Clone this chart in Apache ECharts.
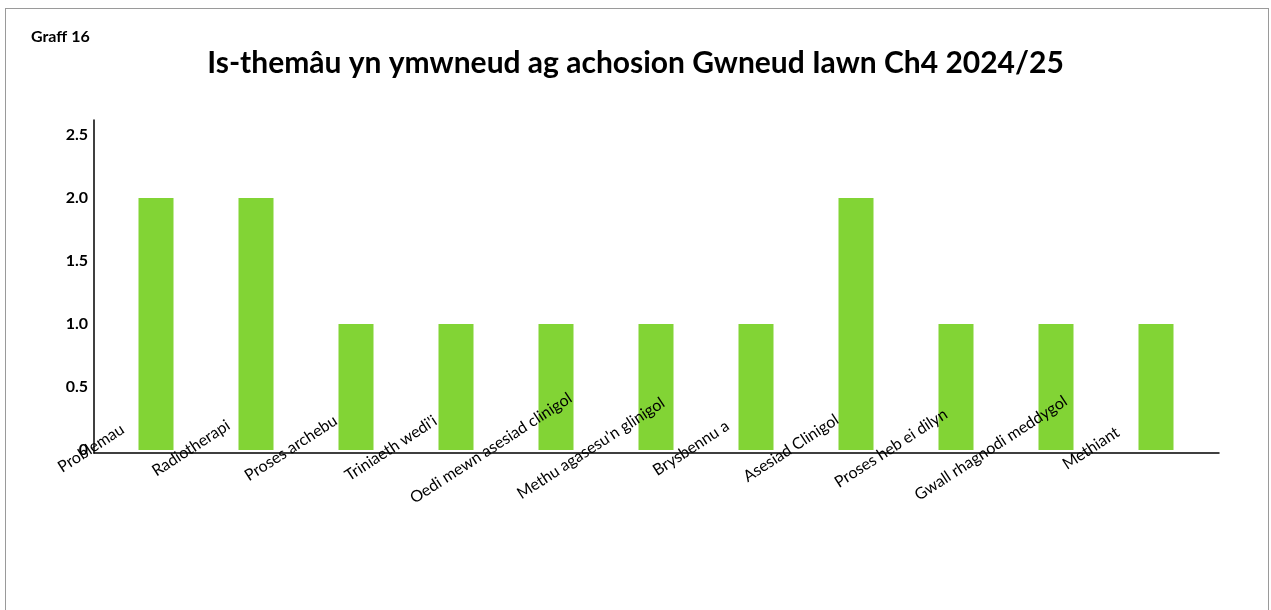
<!DOCTYPE html>
<html>
<head>
<meta charset="utf-8">
<script src="https://cdn.jsdelivr.net/npm/echarts@6/dist/echarts.min.js"></script>
<style>
html,body{margin:0;padding:0;background:#fff;overflow:hidden;}
#frame{position:absolute;left:5px;top:8px;width:1264px;height:640px;border:1.5px solid #9a9a9a;box-sizing:border-box;}
#chart{position:absolute;left:0;top:0;width:1271px;height:610px;}
</style>
</head>
<body>
<div id="frame"></div>
<div id="chart"></div>
<script>
var categories = ["Problemau","Radiotherapi","Proses archebu","Triniaeth wedi'i","Oedi mewn asesiad clinigol","Methu agasesu'n glinigol","Brysbennu a","Asesiad Clinigol","Proses heb ei dilyn","Gwall rhagnodi meddygol","Methiant"];
var values = [2,2,1,1,1,1,1,2,1,1,1];
var titleText = "Is-themâu yn ymwneud ag achosion Gwneud Iawn Ch4 2024/25";
var chartLabel = "Graff 16";

var FONT = "Lato, 'Open Sans', sans-serif";
var chart = echarts.init(document.getElementById('chart'), null, {renderer:'canvas'});
chart.setOption({
  animation:false,
  backgroundColor:'transparent',
  title:[
    {text:titleText,left:'center',top:43,textStyle:{fontFamily:FONT,fontWeight:'bold',fontSize:30,color:'#000'}},
    {text:chartLabel,left:26,top:24,textStyle:{fontFamily:FONT,fontWeight:'bold',fontSize:16,color:'#000'}}
  ],
  grid:[
    {left:106,right:65,top:135,bottom:160},
    {left:94,right:52,top:120,bottom:157}
  ],
  xAxis:[
    {type:'category',gridIndex:0,data:categories,z:20,
     axisLine:{show:false},axisTick:{show:false},
     axisLabel:{interval:0,rotate:33,align:'center',verticalAlign:'middle',margin:-44,
       padding:[0,155,0,0],fontFamily:FONT,fontSize:16,color:'#000'}},
    {type:'category',gridIndex:1,data:[''],z:20,
     axisLine:{show:true,lineStyle:{color:'#000',width:1.5}},axisTick:{show:false},axisLabel:{show:false}}
  ],
  yAxis:[
    {type:'value',gridIndex:0,min:0,max:2.5,interval:0.5,z:20,
     axisLine:{show:false},axisTick:{show:false},splitLine:{show:false},
     axisLabel:{margin:18,fontFamily:FONT,fontWeight:'bold',fontSize:16,color:'#000',
       formatter:function(v){return v===0?'0':v.toFixed(1);}}},
    {type:'value',gridIndex:1,min:0,max:1,z:20,
     axisLine:{show:true,lineStyle:{color:'#000',width:1.5}},axisTick:{show:false},splitLine:{show:false},axisLabel:{show:false}}
  ],
  series:[
    {type:'bar',xAxisIndex:0,yAxisIndex:0,data:values,barWidth:35,z:2,itemStyle:{color:'#82D435'}}
  ]
});
</script>
</body>
</html>
